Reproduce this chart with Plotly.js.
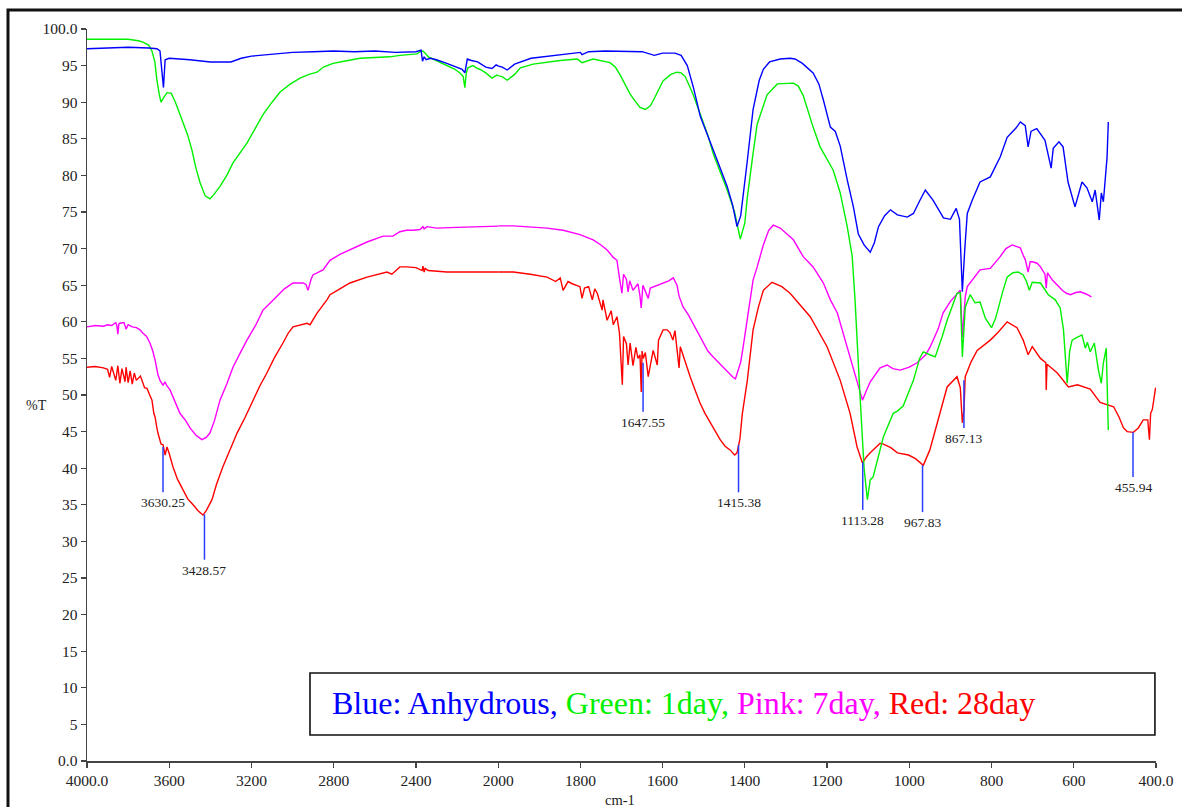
<!DOCTYPE html>
<html>
<head>
<meta charset="utf-8">
<script src="https://cdn.plot.ly/plotly-3.0.1.min.js"></script>
<style>html,body{margin:0;padding:0;background:#fff;}#chart{width:1182px;height:807px;}</style>
</head>
<body>
<div id="chart"></div>
<script>
// ---- Data (wavenumber cm-1, %T) ----
const blueWn = [4000,3900,3800,3700,3660,3645,3635,3628,3620,3600,3500,3400,3300,3250,3200,3100,3000,2900,2800,2700,2600,2500,2400,2375,2368,2360,2350,2330,2300,2250,2200,2175,2162,2150,2130,2100,2060,2030,2010,1990,1978,1960,1920,1850,1800,1796,1780,1740,1700,1650,1620,1600,1570,1555,1540,1525,1508,1490,1477,1460,1443,1430,1419,1410,1400,1394,1380,1365,1355,1340,1314,1290,1278,1260,1234,1220,1209,1192,1180,1168,1151,1136,1124,1110,1095,1085,1075,1060,1046,1029,1005,990,975,961,942,917,900,886,878,871,865,859,847,828,803,779,762,740,730,718,711,704,698,690,670,655,650,636,626,614,597,580,568,555,548,538,533,528,519,516];
const blueT  = [97.3,97.4,97.5,97.4,97.3,97.0,94.5,92.0,95.8,96.0,95.8,95.5,95.5,96.0,96.3,96.6,96.8,96.9,97.0,96.9,97.0,96.8,96.9,97.1,95.6,96.2,95.8,96.0,95.8,95.3,94.8,94.5,94.0,95.9,95.7,95.5,94.8,94.6,95.1,94.8,94.4,95.2,96.0,96.5,96.8,96.5,96.9,97.0,97.0,96.9,96.4,96.7,96.7,96.4,95.0,92.0,88.0,85.5,83.5,81.0,78.5,76.0,73.0,74.5,79.0,82.0,89.0,93.0,94.5,95.5,95.9,96.0,95.9,95.3,94.0,92.5,90.3,86.6,86.0,84.0,79.4,75.7,72.0,70.5,69.5,70.8,73.0,74.5,75.3,74.6,74.3,74.8,76.5,78.0,76.6,74.2,74.0,75.5,74.0,64.1,70.0,74.8,76.6,79.1,79.8,82.5,85.2,86.5,87.3,86.8,83.9,86.0,86.2,86.4,84.8,81.0,83.7,84.6,83.9,79.1,75.7,79.1,78.3,76.4,78.0,73.9,77.6,76.4,82.5,87.3];

const greenWn = [4000,3900,3850,3800,3750,3728,3700,3684,3670,3660,3648,3640,3630,3611,3590,3570,3538,3510,3490,3470,3450,3425,3402,3385,3353,3320,3290,3222,3180,3144,3100,3061,3010,2964,2920,2881,2850,2803,2750,2672,2600,2526,2478,2420,2395,2380,2366,2355,2340,2317,2280,2250,2210,2186,2170,2162,2155,2147,2123,2100,2089,2060,2030,2006,1990,1978,1960,1946,1915,1849,1808,1796,1769,1728,1715,1703,1690,1679,1665,1655,1642,1630,1623,1610,1599,1580,1565,1555,1545,1526,1509,1490,1477,1460,1443,1425,1411,1400,1394,1380,1370,1346,1321,1282,1270,1258,1234,1217,1200,1185,1168,1151,1139,1132,1120,1110,1102,1095,1088,1063,1039,1029,1015,990,975,966,950,937,920,908,884,876,871,864,852,840,828,815,800,790,772,762,748,735,723,715,708,701,681,662,645,633,625,616,610,604,591,580,572,567,560,550,540,533,528,521,516];
const greenT  = [98.6,98.6,98.7,98.6,98.4,98.2,97.8,97.0,95.5,93.0,91.0,90.0,90.5,91.3,91.2,90.0,87.6,85.5,83.5,81.0,79.0,77.2,76.8,77.3,78.5,80.0,81.7,84.4,86.5,88.3,90.0,91.4,92.5,93.3,93.8,94.1,94.8,95.3,95.6,96.0,96.1,96.2,96.4,96.6,96.6,96.9,97.0,96.7,96.2,95.9,95.4,95.1,94.5,94.0,93.5,92.0,94.0,94.7,95.0,94.6,94.5,94.0,93.3,93.7,93.5,93.0,93.8,94.7,95.2,95.7,95.9,95.4,95.9,95.4,94.8,93.7,92.3,91.1,90.0,89.3,89.0,89.5,90.2,91.7,92.9,93.8,94.1,94.0,93.5,91.1,88.4,85.5,83.0,80.5,78.0,75.0,71.3,73.5,77.0,83.0,87.0,91.0,92.5,92.6,92.2,90.9,86.6,83.9,82.1,80.7,77.6,73.0,69.0,63.0,50.0,40.0,35.7,38.4,38.8,44.3,47.5,47.8,48.5,52.0,55.0,55.9,55.5,55.2,58.0,60.2,63.9,64.0,55.2,62.0,63.7,62.6,62.7,60.5,59.2,60.5,64.3,66.1,66.7,66.8,66.4,65.5,64.3,65.4,65.3,63.7,63.0,61.9,58.9,51.6,56.0,57.5,57.9,58.2,56.4,57.2,55.9,57.1,53.4,51.6,54.4,56.4,45.2];

const pinkWn = [4000,3960,3920,3900,3880,3860,3855,3850,3845,3840,3820,3810,3800,3780,3760,3742,3730,3710,3694,3680,3669,3655,3645,3630,3621,3610,3596,3570,3548,3520,3499,3470,3441,3420,3402,3380,3353,3320,3290,3250,3222,3180,3144,3100,3076,3040,2998,2949,2935,2925,2910,2901,2852,2818,2770,2721,2638,2560,2512,2478,2446,2414,2380,2366,2360,2346,2300,2200,2089,2000,1963,1881,1842,1801,1769,1750,1735,1720,1711,1705,1699,1695,1688,1684,1680,1672,1660,1655,1652,1648,1638,1635,1630,1620,1599,1585,1574,1565,1560,1550,1538,1526,1515,1501,1490,1477,1465,1453,1440,1430,1423,1416,1410,1404,1395,1387,1380,1370,1355,1342,1331,1314,1282,1258,1234,1209,1192,1175,1151,1127,1114,1105,1095,1071,1054,1040,1022,1000,981,960,949,930,918,900,884,876,871,864,859,845,828,803,779,765,750,740,730,723,718,711,706,701,689,681,670,667,664,652,640,628,618,608,595,584,570,557];
const pinkT  = [59.3,59.5,59.4,59.6,59.5,59.9,59.5,58.3,59.7,59.8,59.9,59.0,59.6,59.3,59.2,58.9,58.5,58.0,57.1,56.0,54.8,52.8,52.0,51.3,51.8,51.2,50.7,49.0,47.5,46.5,45.5,44.5,43.9,44.2,44.8,46.5,49.3,51.5,53.8,56.0,57.5,59.5,61.6,62.8,63.5,64.5,65.3,65.3,65.1,64.3,65.8,66.4,67.1,68.4,69.2,69.8,70.9,71.7,71.7,72.3,72.5,72.5,72.6,73.0,72.7,73.0,72.8,72.9,73.0,73.1,73.1,72.8,72.5,71.9,71.2,70.5,69.8,68.8,68.4,66.0,63.9,66.5,65.8,64.1,65.6,64.3,65.2,63.5,61.9,65.0,63.7,63.2,64.6,64.8,65.3,65.6,66.0,65.0,63.5,62.0,61.0,59.8,58.5,57.1,56.0,55.2,54.5,53.8,53.0,52.5,52.2,53.4,54.5,56.6,60.0,63.4,65.7,67.5,70.5,72.5,73.2,72.8,71.2,68.9,67.5,65.3,63.0,61.2,56.6,52.0,49.3,50.5,51.8,53.7,54.1,53.6,53.4,53.8,54.4,55.5,56.6,59.0,61.2,62.8,63.9,64.3,57.9,63.4,64.8,65.8,67.1,67.3,68.9,70.0,70.5,70.3,70.1,69.1,68.5,66.8,68.2,68.2,68.0,67.5,66.5,64.6,66.7,65.7,65.0,64.3,63.9,63.7,64.0,64.1,63.8,63.4];

const redWn = [4000,3960,3920,3900,3890,3880,3860,3850,3840,3830,3815,3810,3800,3790,3780,3770,3760,3740,3720,3708,3695,3684,3675,3669,3660,3655,3640,3630,3620,3611,3600,3582,3560,3533,3510,3484,3460,3436,3420,3392,3370,3339,3300,3270,3230,3193,3160,3125,3090,3047,3020,2998,2960,2930,2915,2900,2881,2833,2818,2770,2721,2638,2541,2517,2500,2478,2444,2400,2370,2366,2360,2355,2340,2250,2089,2000,1963,1922,1900,1881,1860,1849,1842,1830,1820,1801,1796,1790,1780,1771,1765,1759,1747,1745,1735,1725,1720,1711,1705,1698,1695,1688,1684,1679,1672,1665,1660,1655,1652,1650,1647,1642,1635,1623,1613,1610,1599,1589,1582,1575,1570,1560,1557,1545,1533,1520,1509,1497,1484,1472,1460,1448,1436,1425,1419,1412,1406,1394,1380,1367,1355,1334,1310,1290,1241,1200,1168,1144,1127,1114,1105,1095,1080,1071,1063,1045,1029,1002,985,966,950,932,908,884,876,871,867,864,850,835,803,785,762,738,723,711,701,681,668,667,665,640,613,591,560,536,503,490,479,470,455,443,431,420,416,413,409,405,401];
const redT  = [53.8,53.9,53.7,53.5,52.4,53.9,52.0,54.0,51.6,53.6,51.8,53.8,51.7,53.3,51.5,53.0,52.0,52.6,51.0,50.9,50.0,49.3,47.5,47.0,45.5,44.8,43.3,43.2,41.8,42.9,42.0,40.2,38.5,37.0,35.8,35.0,34.2,33.6,34.2,35.7,37.8,40.2,42.8,44.8,47.0,49.3,51.2,53.0,55.0,57.1,58.5,59.3,59.6,59.8,59.6,60.3,61.2,63.0,63.7,64.5,65.3,66.1,66.8,66.5,67.0,67.5,67.5,67.4,67.0,67.6,66.8,67.3,67.0,66.8,66.8,66.8,66.8,66.5,66.3,66.1,65.5,66.0,64.3,65.5,65.2,64.8,63.2,64.6,64.8,63.0,64.5,63.9,61.6,63.0,60.2,61.5,59.6,60.7,58.5,51.4,58.0,57.0,54.1,57.1,54.0,56.5,55.0,55.5,50.4,56.0,55.0,55.8,52.5,56.1,54.1,57.5,58.9,58.9,58.5,57.5,58.8,53.7,56.6,54.5,52.5,50.5,48.9,47.5,46.2,45.0,43.9,43.0,42.5,41.8,42.1,44.0,47.5,52.0,58.9,62.0,64.3,65.4,64.8,63.9,60.7,56.6,52.0,47.5,42.9,40.7,41.5,42.1,43.0,43.4,43.3,42.8,42.1,41.8,41.3,40.4,42.5,46.2,51.1,52.5,51.0,46.2,48.0,52.5,54.5,56.1,57.5,58.5,60.0,59.2,57.5,55.5,56.6,55.0,54.4,50.7,54.2,53.0,51.1,51.4,50.8,49.0,48.4,47.0,45.5,45.0,44.9,45.5,46.6,46.6,43.9,47.5,48.0,49.5,51.0];

// Peak markers (wavenumber, line top %T, line bottom %T)
const peakWn  = [3630.25, 3428.57, 1647.55, 1415.38, 1113.28, 967.83, 867.13, 455.94];
const peakTop = [42.9, 33.7, 54.4, 43.2, 40.8, 40.4, 52.0, 44.9];
const peakBot = [36.7, 27.5, 47.7, 36.7, 34.3, 34.0, 45.5, 38.8];

// Axis ticks
const yTickVals = [0,5,10,15,20,25,30,35,40,45,50,55,60,65,70,75,80,85,90,95,100];
const yTickText = ['0.0','5','10','15','20','25','30','35','40','45','50','55','60','65','70','75','80','85','90','95','100.0'];
const xLeftTicks = [4000,3600,3200,2800,2400];
const xLeftText  = ['4000.0','3600','3200','2800','2400'];
const xRightTicks = [2000,1800,1600,1400,1200,1000,800,600,400];
const xRightText  = ['2000','1800','1600','1400','1200','1000','800','600','400.0'];

const BREAK = 2000;
const FONT = '"Liberation Serif", "Times New Roman", Times, serif';

function splitSeries(wn, t) {
  // left panel: wn >= BREAK (plus first point beyond); right panel: wn <= BREAK (plus last point before)
  const lx=[], ly=[], rx=[], ry=[];
  let firstBelow = -1, lastAbove = -1;
  for (let i=0;i<wn.length;i++){
    if (wn[i] >= BREAK) { lx.push(wn[i]); ly.push(t[i]); lastAbove = i; }
    else if (firstBelow < 0) firstBelow = i;
  }
  if (firstBelow >= 0) { lx.push(wn[firstBelow]); ly.push(t[firstBelow]); }
  if (lastAbove >= 0 && wn[lastAbove] > BREAK) { rx.push(wn[lastAbove]); ry.push(t[lastAbove]); }
  for (let i=0;i<wn.length;i++){
    if (wn[i] <= BREAK) { rx.push(wn[i]); ry.push(t[i]); }
  }
  return {lx, ly, rx, ry};
}

const series = [
  {wn: pinkWn, t: pinkT, color: '#ff00ff', name: 'Pink: 7day'},
  {wn: redWn, t: redT, color: '#ff0000', name: 'Red: 28day'},
  {wn: greenWn, t: greenT, color: '#00f000', name: 'Green: 1day'},
  {wn: blueWn, t: blueT, color: '#0000ff', name: 'Blue: Anhydrous'}
];

const traces = [];
series.forEach(s => {
  const p = splitSeries(s.wn, s.t);
  traces.push({x: p.lx, y: p.ly, xaxis: 'x', yaxis: 'y', type: 'scatter', mode: 'lines',
    line: {color: s.color, width: 1.4}, name: s.name, showlegend: false, hoverinfo: 'skip'});
  traces.push({x: p.rx, y: p.ry, xaxis: 'x2', yaxis: 'y', type: 'scatter', mode: 'lines',
    line: {color: s.color, width: 1.4}, name: s.name, showlegend: false, hoverinfo: 'skip'});
});

const shapes = [];
const annotations = [];
peakWn.forEach((w, i) => {
  const xr = w >= BREAK ? 'x' : 'x2';
  shapes.push({type: 'line', xref: xr, yref: 'y', x0: w, x1: w, y0: peakBot[i], y1: peakTop[i],
    line: {color: '#2a3cff', width: 1.5}});
  annotations.push({xref: xr, yref: 'y', x: w, y: peakBot[i], text: w.toFixed(2), showarrow: false,
    xanchor: 'center', yanchor: 'top', yshift: -1, font: {family: FONT, size: 13.5, color: '#222'}});
});

// Outer frame
shapes.push({type: 'rect', xref: 'paper', yref: 'paper', x0: -0.0739, x1: 1.04, y0: -0.08, y1: 1.026,
  line: {color: '#111', width: 3}, layer: 'below'});
// Legend box
shapes.push({type: 'rect', xref: 'paper', yref: 'paper', x0: 0.2086, x1: 0.999, y0: 0.0355, y1: 0.1202,
  line: {color: '#111', width: 1.6}, fillcolor: 'rgba(0,0,0,0)'});

annotations.push({xref: 'paper', yref: 'paper', x: 0.2273, y: 0.0792, xanchor: 'left', yanchor: 'middle',
  showarrow: false, font: {family: FONT, size: 32},
  text: '<span style="color:#0000ff">Blue: Anhydrous,</span> <span style="color:#00f000">Green: 1day,</span> <span style="color:#ff00ff">Pink: 7day,</span> <span style="color:#ff0000">Red: 28day</span>'});
annotations.push({xref: 'paper', yref: 'paper', x: -0.0477, y: 0.486, xanchor: 'center', yanchor: 'middle',
  showarrow: false, text: '%T', font: {family: FONT, size: 14, color: '#222'}});
annotations.push({xref: 'paper', yref: 'paper', x: 0.4986, y: -0.053, xanchor: 'center', yanchor: 'middle',
  showarrow: false, text: 'cm-1', font: {family: FONT, size: 14.5, color: '#222'}});

const splitFrac = 2000 / 5200;
const axisCommon = {showgrid: false, zeroline: false, showline: true, linecolor: '#444', linewidth: 1.5,
  ticks: 'outside', ticklen: 5, tickwidth: 1.2, tickcolor: '#444', tickmode: 'array',
  tickfont: {family: FONT, size: 15.5, color: '#222'}, fixedrange: true};

const layout = {
  width: 1182, height: 807,
  margin: {l: 87, r: 26, t: 29, b: 46, pad: 0},
  paper_bgcolor: '#ffffff', plot_bgcolor: '#ffffff',
  showlegend: false,
  xaxis: Object.assign({}, axisCommon, {domain: [0, splitFrac], range: [4000, 2000],
    tickvals: xLeftTicks, ticktext: xLeftText, anchor: 'y'}),
  xaxis2: Object.assign({}, axisCommon, {domain: [splitFrac, 1], range: [2000, 400],
    tickvals: xRightTicks, ticktext: xRightText, anchor: 'y'}),
  yaxis: Object.assign({}, axisCommon, {range: [0, 100], tickvals: yTickVals, ticktext: yTickText}),
  shapes: shapes,
  annotations: annotations
};

Plotly.newPlot('chart', traces, layout, {staticPlot: true, displayModeBar: false});
</script>
</body>
</html>
